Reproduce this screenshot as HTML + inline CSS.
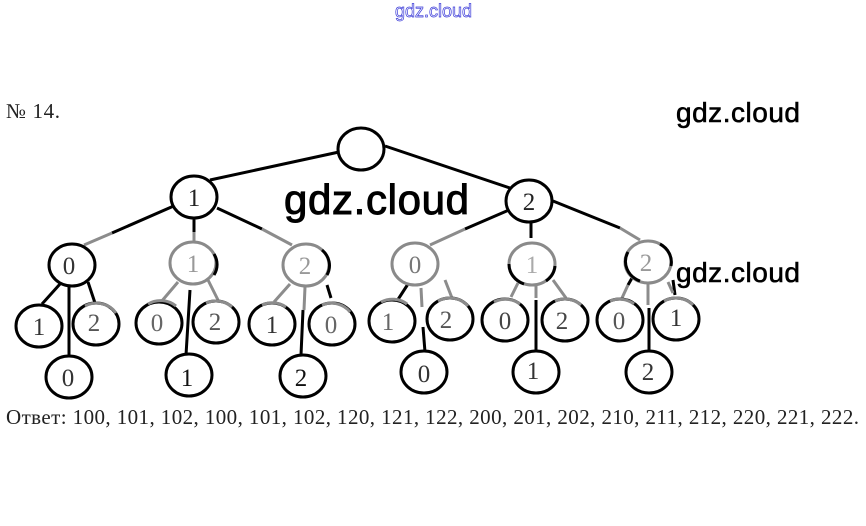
<!DOCTYPE html>
<html><head><meta charset="utf-8"><style>
html,body{margin:0;padding:0;background:#fff}
svg{display:block}
.w{font-family:"Liberation Sans",sans-serif;fill:#000;stroke:#000;stroke-width:.6}
.d{font-family:"Liberation Serif",serif;text-anchor:middle;font-size:25px}
.k{stroke:#000;fill:none;stroke-width:3}
.g{stroke:#8c8c8c;fill:none;stroke-width:3}
.n{fill:#fff;stroke:#000;stroke-width:3}
.ng{fill:#fff;stroke:#8a8a8a;stroke-width:3}
.w3{stroke:#fff;fill:none;stroke-width:4}
</style></head><body>
<svg width="866" height="526" viewBox="0 0 866 526" xmlns="http://www.w3.org/2000/svg">
<rect width="866" height="526" fill="#fff"/>
<text x="395" y="17" font-family="Liberation Sans, sans-serif" font-size="18" fill="#fff" stroke="#3a3ad8" stroke-width=".7" textLength="77">gdz.cloud</text>
<text x="6" y="118" font-family="Liberation Serif, serif" font-size="21" fill="#222" textLength="54">№ 14.</text>

<!-- connectors -->
<path class="k" d="M339 152L210 180M385 146L510 188M176 205L112 233M194 218V232M217 208L262 229M509 210L465 229M531 222V238M553 201L620 228"/>
<path class="g" d="M112 233L84 245M194 232V244M262 229L292 245M465 229L430 245M620 228L640 240"/>
<path class="k" d="M60 284L42 304M69 286V358M88 282L95 303M190 290L186 355M303 310L301 355M327 285L331 298M408 284L397 301M423 327L425 352M536 300V352M649 308V352M632 278L628 285M673 280L675 295"/>
<path class="g" d="M178 282L161 302M208 280L218 300M290 284L274 302M305 287L304 310M421 288L422 307M445 280L452 298M518 283L511 297M536 285V298M553 280L566 298M628 285L622 298M648 283V305M668 282L673 293"/>

<!-- nodes -->
<ellipse class="n" cx="361" cy="149" rx="23" ry="21"/>
<ellipse class="n" cx="194" cy="197" rx="23" ry="21"/>
<ellipse class="n" cx="529" cy="201" rx="23" ry="21"/>
<ellipse class="n" cx="72" cy="265" rx="23" ry="21"/>
<ellipse class="ng" cx="193" cy="263" rx="23" ry="21"/>
<ellipse class="ng" cx="306" cy="265" rx="23" ry="21"/>
<ellipse class="ng" cx="415" cy="264" rx="23" ry="21"/>
<ellipse class="ng" cx="532" cy="264" rx="23" ry="21"/>
<ellipse class="ng" cx="648" cy="262" rx="23" ry="21"/>
<path class="k" d="M214 254A23 21 0 0 1 214 275M660 244A23 21 0 0 1 671 266M628 252A23 21 0 0 0 640 281M322 250A23 21 0 0 1 327 275M509 264A23 21 0 0 0 524 284M546 281A23 21 0 0 0 555 266"/>
<ellipse class="n" cx="39" cy="326" rx="23" ry="21"/>
<ellipse class="n" cx="96" cy="324" rx="23" ry="21"/>
<ellipse class="n" cx="159" cy="323" rx="23" ry="21"/>
<ellipse class="n" cx="216" cy="322" rx="23" ry="21"/>
<ellipse class="n" cx="272" cy="324" rx="23" ry="21"/>
<ellipse class="n" cx="332" cy="324" rx="23" ry="21"/>
<ellipse class="n" cx="392" cy="321" rx="23" ry="21"/>
<ellipse class="n" cx="450" cy="319" rx="23" ry="21"/>
<ellipse class="n" cx="505" cy="320" rx="23" ry="21"/>
<ellipse class="n" cx="565" cy="320" rx="23" ry="21"/>
<ellipse class="n" cx="620" cy="320" rx="23" ry="21"/>
<ellipse class="n" cx="676" cy="319" rx="23" ry="21"/>
<ellipse class="n" cx="69" cy="377" rx="23" ry="21"/>
<ellipse class="n" cx="189" cy="375" rx="23" ry="21"/>
<ellipse class="n" cx="303" cy="376" rx="23" ry="21"/>
<ellipse class="n" cx="424" cy="372" rx="23" ry="21"/>
<ellipse class="n" cx="536" cy="372" rx="23" ry="21"/>
<ellipse class="n" cx="649" cy="372" rx="23" ry="21"/>
<!-- faded tops of the third row -->
<path class="g" d="M85 306A23 21 0 0 1 116 313M148 304A23 21 0 0 1 176 306M206 303A23 21 0 0 1 232 307M262 305A23 21 0 0 1 286 307M322 305A23 21 0 0 1 350 312M381 302A23 21 0 0 1 407 304M438 301A23 21 0 0 1 468 306M494 302A23 21 0 0 1 520 304M555 301A23 21 0 0 1 581 305M610 301A23 21 0 0 1 634 304M664 301A23 21 0 0 1 693 305"/>

<!-- digits -->
<g class="d">
<text x="194" y="206" fill="#222">1</text>
<text x="529" y="210" fill="#222">2</text>
<text x="69" y="274" fill="#333">0</text>
<text x="193" y="272" fill="#999">1</text>
<text x="305" y="274" fill="#999">2</text>
<text x="415" y="273" fill="#777">0</text>
<text x="532" y="273" fill="#aaa">1</text>
<text x="646" y="271" fill="#999">2</text>
<text x="39" y="335" fill="#333">1</text>
<text x="94" y="331" fill="#555">2</text>
<text x="157" y="331" fill="#666">0</text>
<text x="215" y="330" fill="#555">2</text>
<text x="272" y="333" fill="#333">1</text>
<text x="331" y="333" fill="#666">0</text>
<text x="388" y="330" fill="#666">1</text>
<text x="446" y="328" fill="#555">2</text>
<text x="505" y="329" fill="#444">0</text>
<text x="562" y="329" fill="#444">2</text>
<text x="619" y="329" fill="#555">0</text>
<text x="676" y="326" fill="#333">1</text>
<text x="68" y="386" fill="#333">0</text>
<text x="187" y="386" fill="#111">1</text>
<text x="301" y="386" fill="#111">2</text>
<text x="424" y="382" fill="#333">0</text>
<text x="533" y="379" fill="#333">1</text>
<text x="648" y="380" fill="#333">2</text>
</g>

<text x="6" y="424" font-family="Liberation Serif, serif" font-size="21" fill="#222" textLength="853" lengthAdjust="spacing">Ответ: 100, 101, 102, 100, 101, 102, 120, 121, 122, 200, 201, 202, 210, 211, 212, 220, 221, 222.</text>

<!-- watermarks -->
<text class="w" x="676" y="122" font-size="28" textLength="124">gdz.cloud</text>
<text class="w" x="284" y="214" font-size="42" textLength="185" style="stroke-width:1">gdz.cloud</text>
<text class="w" x="676" y="282" font-size="28" textLength="124">gdz.cloud</text>
</svg>
</body></html>
